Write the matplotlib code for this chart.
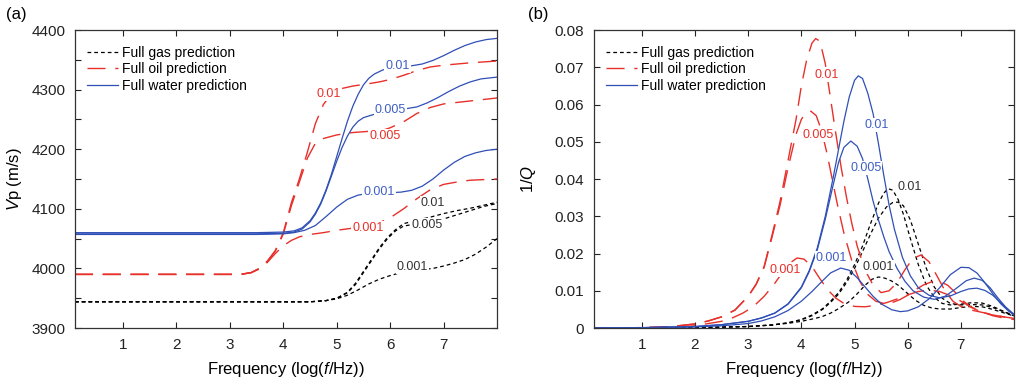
import matplotlib
matplotlib.use("Agg")
import matplotlib.pyplot as plt
from matplotlib.ticker import MultipleLocator, FuncFormatter

plt.rcParams["font.family"] = ["Liberation Sans", "DejaVu Sans"]
plt.rcParams["mathtext.fontset"] = "custom"
plt.rcParams["mathtext.rm"] = "Liberation Sans"
plt.rcParams["mathtext.it"] = "Liberation Sans:italic"

BLUE = "#2f4fb6"
RED = "#e8302a"
BLUE_TXT = "#3f5fc4"
BLACK_TXT = "#333333"

# ---------------- panel (a): Vp (m/s) vs log frequency ----------------
a_w01_x = [0.1, 3.5, 4.0, 4.2, 4.35, 4.5, 4.6, 4.7, 4.8, 4.9, 5.0, 5.1, 5.2, 5.3, 5.4, 5.5, 5.6, 5.7, 5.86,
           6.0, 6.2, 6.4, 6.6, 6.8, 7.0, 7.2, 7.4, 7.6, 7.8, 8.0]
a_w01_y = [4060, 4060, 4061, 4063, 4068, 4080, 4093, 4110, 4132, 4158, 4188, 4218, 4247, 4272, 4292, 4308, 4319, 4326, 4333,
           4336, 4338, 4340, 4343, 4349, 4357, 4366, 4374, 4380, 4384, 4386]
a_w005_x = [0.1, 3.5, 4.0, 4.2, 4.35, 4.5, 4.6, 4.7, 4.8, 4.9, 5.0, 5.1, 5.2, 5.3, 5.4, 5.5, 5.68, 6.0, 6.3, 6.5,
            6.7, 6.9, 7.1, 7.3, 7.5, 7.7, 8.0]
a_w005_y = [4058, 4058, 4059, 4061, 4066, 4078, 4091, 4108, 4130, 4155, 4180, 4203, 4222, 4237, 4247, 4253, 4258, 4264, 4268, 4271,
            4278, 4287, 4297, 4306, 4313, 4318, 4321]
a_w001_x = [0.1, 3.5, 4.0, 4.2, 4.4, 4.6, 4.8, 5.0, 5.2, 5.4, 5.6, 5.8, 6.0, 6.2, 6.4, 6.6, 6.8, 7.0, 7.2, 7.4, 7.6, 7.8, 8.0]
a_w001_y = [4057, 4057, 4058, 4060, 4064, 4072, 4087, 4103, 4116, 4123, 4126, 4127, 4127, 4128, 4131, 4138, 4150, 4165, 4178,
            4188, 4194, 4198, 4200]

a_o01_x = [0.1, 3.2, 3.4, 3.55, 3.7, 3.85, 4.0, 4.15, 4.3, 4.45, 4.6, 4.75, 4.9, 5.1, 5.3, 5.6, 5.8, 6.0, 6.25, 6.5,
           6.75, 7.0, 7.5, 8.0]
a_o01_y = [3990, 3990, 3993, 4000, 4012, 4030, 4060, 4110, 4150, 4195, 4243, 4275, 4293, 4302, 4306, 4310, 4313, 4317, 4324, 4332,
           4338, 4341, 4345, 4348]
a_o005_x = [0.1, 3.2, 3.4, 3.55, 3.7, 3.85, 4.0, 4.15, 4.3, 4.45, 4.6, 4.75, 5.0, 5.3, 5.6, 5.9, 6.0, 6.25, 6.5, 6.75,
            7.0, 7.5, 8.0]
a_o005_y = [3990, 3990, 3993, 4000, 4012, 4029, 4058, 4105, 4145, 4185, 4210, 4218, 4224, 4228, 4230, 4233, 4236, 4246, 4260, 4270,
            4276, 4281, 4286]
a_o001_x = [0.1, 3.2, 3.4, 3.55, 3.7, 3.85, 4.0, 4.15, 4.3, 4.5, 4.75, 5.0, 5.25, 5.5, 5.75, 6.0, 6.25, 6.5, 6.75, 7.0,
            7.25, 7.5, 8.0]
a_o001_y = [3990, 3990, 3993, 3999, 4010, 4025, 4038, 4047, 4053, 4057, 4060, 4064, 4067, 4070, 4075, 4085, 4100, 4117, 4132, 4141,
            4145, 4148, 4150]

a_g01_x = [0.1, 4.5, 4.8, 5.0, 5.2, 5.35, 5.5, 5.65, 5.8, 5.95, 6.1, 6.25, 6.5, 6.75, 7.0, 7.25, 7.5, 7.75, 8.0]
a_g01_y = [3944, 3944, 3946, 3950, 3960, 3975, 3995, 4015, 4035, 4052, 4065, 4075, 4081, 4086, 4092, 4097, 4101, 4106, 4111]
a_g005_x = [0.1, 4.5, 4.8, 5.0, 5.2, 5.35, 5.5, 5.65, 5.8, 5.95, 6.1, 6.25, 6.5, 6.75, 7.0, 7.25, 7.5, 7.75, 8.0]
a_g005_y = [3944, 3944, 3946, 3950, 3959, 3973, 3993, 4013, 4033, 4050, 4063, 4071, 4075, 4079, 4083, 4090, 4097, 4104, 4109]
a_g001_x = [0.1, 4.5, 4.8, 5.0, 5.2, 5.4, 5.6, 5.8, 6.0, 6.2, 6.4, 6.6, 6.8, 7.0, 7.2, 7.4, 7.6, 7.8, 8.0]
a_g001_y = [3944, 3944, 3946, 3949, 3955, 3964, 3974, 3982, 3988, 3993, 3996, 3998, 4000, 4004, 4009, 4015, 4024, 4036, 4050]

# ---------------- panel (b): 1/Q vs log frequency ----------------
b_w01_x = [0.1, 1.0, 2.0, 2.5, 3.0, 3.25, 3.5, 3.75, 4.0, 4.15, 4.3, 4.45, 4.6, 4.7, 4.8, 4.9, 5.0, 5.07, 5.15, 5.25,
           5.35, 5.45, 5.55, 5.65, 5.75, 5.9, 6.05, 6.2, 6.4, 6.6, 6.8, 7.0, 7.15, 7.3, 7.45, 7.6, 7.75, 7.9, 8.0]
b_w01_y = [0, 0.0001, 0.0004, 0.0009, 0.0018, 0.0027, 0.004, 0.0065, 0.011, 0.0155, 0.0215, 0.030, 0.0405, 0.048, 0.0555,
           0.062, 0.0665, 0.0677, 0.0670, 0.0630, 0.0575, 0.0495, 0.0410, 0.0330, 0.0265, 0.019, 0.014, 0.0108, 0.0088,
           0.0081, 0.0086, 0.0098, 0.0105, 0.0107, 0.0101, 0.0088, 0.0068, 0.0048, 0.0035]
b_w005_x = [0.1, 1.0, 2.0, 2.5, 3.0, 3.25, 3.5, 3.75, 4.0, 4.15, 4.3, 4.45, 4.6, 4.7, 4.8, 4.93, 5.05, 5.15, 5.25, 5.35,
            5.45, 5.55, 5.65, 5.8, 5.95, 6.1, 6.3, 6.5, 6.7, 6.9, 7.1, 7.25, 7.4, 7.55, 7.7, 7.85, 8.0]
b_w005_y = [0, 0.0001, 0.0004, 0.0009, 0.0018, 0.0027, 0.004, 0.0064, 0.0108, 0.0152, 0.021, 0.0292, 0.0385, 0.0445, 0.0485,
            0.0502, 0.0488, 0.0455, 0.0400, 0.0340, 0.0290, 0.0245, 0.0205, 0.0160, 0.0125, 0.0100, 0.0083, 0.0077,
            0.0085, 0.0105, 0.0127, 0.0134, 0.0128, 0.0108, 0.0080, 0.0055, 0.0037]
b_w001_x = [0.1, 1.0, 2.0, 2.5, 3.0, 3.25, 3.5, 3.75, 4.0, 4.2, 4.4, 4.55, 4.74, 4.9, 5.05, 5.2, 5.35, 5.5, 5.7, 5.86,
            6.0, 6.2, 6.4, 6.6, 6.8, 7.0, 7.15, 7.3, 7.45, 7.6, 7.75, 7.9, 8.0]
b_w001_y = [0, 0.0001, 0.0003, 0.0006, 0.0012, 0.0019, 0.003, 0.0047, 0.0072, 0.0098, 0.0127, 0.0148, 0.0161, 0.0155, 0.0135,
            0.0110, 0.0085, 0.0065, 0.0049, 0.0044, 0.0046, 0.0057, 0.0078, 0.0108, 0.0143, 0.0163, 0.0162, 0.0148,
            0.0122, 0.0092, 0.0065, 0.0045, 0.0035]

b_o01_x = [0.1, 1.0, 1.5, 2.0, 2.25, 2.5, 2.75, 3.0, 3.15, 3.3, 3.45, 3.6, 3.75, 3.9, 4.0, 4.1, 4.2, 4.27, 4.35, 4.45,
           4.55, 4.65, 4.75, 4.85, 4.95, 5.05, 5.2, 5.35, 5.5, 5.65, 5.8, 5.95, 6.1, 6.25, 6.4, 6.55, 6.7, 6.85, 7.0,
           7.2, 7.4, 7.6, 7.8, 8.0]
b_o01_y = [0, 0.0001, 0.0003, 0.0011, 0.0019, 0.003, 0.0048, 0.0085, 0.0118, 0.0165, 0.025, 0.034, 0.045, 0.056, 0.065,
           0.072, 0.0765, 0.0777, 0.0770, 0.0710, 0.0615, 0.0520, 0.0430, 0.0350, 0.0280, 0.0220, 0.0155, 0.0115,
           0.0095, 0.0100, 0.0122, 0.0157, 0.0187, 0.0196, 0.0178, 0.0140, 0.0100, 0.0072, 0.0058, 0.0048, 0.0042,
           0.0036, 0.0030, 0.0026]
b_o005_x = [0.1, 1.0, 1.5, 2.0, 2.25, 2.5, 2.75, 3.0, 3.15, 3.3, 3.45, 3.6, 3.75, 3.9, 4.0, 4.08, 4.18, 4.28, 4.38, 4.48,
            4.58, 4.68, 4.8, 4.95, 5.1, 5.25, 5.4, 5.55, 5.7, 5.85, 6.0, 6.15, 6.3, 6.45, 6.6, 6.75, 6.9, 7.05, 7.2,
            7.4, 7.6, 7.8, 8.0]
b_o005_y = [0, 0.0001, 0.0003, 0.0011, 0.0019, 0.003, 0.0048, 0.0085, 0.0117, 0.0163, 0.0245, 0.0330, 0.0430, 0.0520,
            0.0560, 0.0577, 0.0582, 0.0570, 0.0530, 0.0470, 0.0400, 0.0330, 0.0255, 0.0180, 0.0125, 0.0090, 0.0072,
            0.0066, 0.0068, 0.0076, 0.0088, 0.0103, 0.0116, 0.0124, 0.0125, 0.0115, 0.0095, 0.0072, 0.0055, 0.0042,
            0.0035, 0.0030, 0.0026]
b_o001_x = [0.1, 1.0, 1.5, 2.0, 2.5, 2.7, 2.9, 3.1, 3.3, 3.5, 3.65, 3.8, 3.92, 4.05, 4.2, 4.35, 4.5, 4.65, 4.8, 5.0,
            5.2, 5.4, 5.6, 5.8, 6.0, 6.2, 6.4, 6.6, 6.8, 7.0, 7.2, 7.4, 7.6, 7.8, 8.0]
b_o001_y = [0, 0.0001, 0.0002, 0.0006, 0.0018, 0.0027, 0.0040, 0.0058, 0.0085, 0.0120, 0.0150, 0.0176, 0.0188, 0.0185,
            0.0165, 0.0132, 0.0102, 0.0080, 0.0066, 0.0058, 0.0057, 0.0061, 0.0068, 0.0078, 0.0089, 0.0098, 0.0102,
            0.0098, 0.0087, 0.0072, 0.0056, 0.0043, 0.0033, 0.0027, 0.0023]

b_g01_x = [0.1, 2.0, 3.0, 3.45, 3.75, 4.0, 4.2, 4.4, 4.55, 4.7, 4.85, 5.0, 5.15, 5.3, 5.45, 5.55, 5.63, 5.72, 5.82, 5.92,
           6.05, 6.2, 6.35, 6.5, 6.65, 6.8, 7.0, 7.2, 7.4, 7.6, 7.8, 8.0]
b_g01_y = [0, 0.0001, 0.0004, 0.0008, 0.0014, 0.0023, 0.0035, 0.0052, 0.0072, 0.0095, 0.0128, 0.0170, 0.0220, 0.0280,
           0.0335, 0.0362, 0.0374, 0.0370, 0.0345, 0.0305, 0.0240, 0.0170, 0.0115, 0.0082, 0.0066, 0.0062, 0.0064,
           0.0068, 0.0067, 0.0058, 0.0045, 0.0033]
b_g005_x = [0.1, 2.0, 3.0, 3.45, 3.75, 4.0, 4.2, 4.4, 4.55, 4.7, 4.85, 5.0, 5.15, 5.3, 5.45, 5.6, 5.72, 5.82, 5.92, 6.05,
            6.2, 6.35, 6.5, 6.65, 6.8, 7.0, 7.2, 7.4, 7.6, 7.8, 8.0]
b_g005_y = [0, 0.0001, 0.0004, 0.0008, 0.0014, 0.0022, 0.0033, 0.0050, 0.0069, 0.0091, 0.0122, 0.0160, 0.0205, 0.0252,
            0.0295, 0.0325, 0.0337, 0.0338, 0.0328, 0.0290, 0.0225, 0.0160, 0.0110, 0.0080, 0.0066, 0.0062, 0.0063,
            0.0062, 0.0055, 0.0044, 0.0033]
b_g001_x = [0.1, 2.0, 3.0, 3.5, 3.77, 4.0, 4.2, 4.38, 4.55, 4.7, 4.89, 5.05, 5.2, 5.33, 5.45, 5.57, 5.7, 5.82, 5.98, 6.14,
            6.3, 6.45, 6.6, 6.8, 7.0, 7.2, 7.4, 7.6, 7.8, 8.0]
b_g001_y = [0, 0.0001, 0.0004, 0.0009, 0.0013, 0.0018, 0.0024, 0.0030, 0.0040, 0.0052, 0.0070, 0.0092, 0.0115, 0.0131,
            0.0137, 0.0134, 0.0126, 0.0115, 0.0095, 0.0075, 0.0061, 0.0054, 0.0051, 0.0051, 0.0055, 0.0058, 0.0057,
            0.0050, 0.0041, 0.0032]

legend_labels = ["Full gas prediction", "Full oil prediction", "Full water prediction"]
xticks = [1, 2, 3, 4, 5, 6, 7]

GAS = dict(color="black", linewidth=0.9, dashes=(3.0, 2.4))
OIL = dict(color=RED, linewidth=1.0, dashes=(13, 7))
WATER = dict(color=BLUE, linewidth=0.9, linestyle="-")


def style_axes(ax):
    ax.tick_params(which="both", direction="in", top=True, right=True, length=4,
                   width=0.8, labelsize=11, pad=7, colors="#222222")
    for s in ax.spines.values():
        s.set_linewidth(0.9)
        s.set_color("#333333")
    ax.set_xticks(xticks)
    ax.set_xlim(0.1, 8.0)
    ax.set_xlabel("Frequency (log($\\mathit{f}$/Hz))", fontsize=12, labelpad=6)


def curve_label(ax, x, y, s, color):
    ax.text(x, y, s, color=color, fontsize=9, ha="center", va="center", zorder=5,
            bbox=dict(boxstyle="square,pad=0.08", fc="white", ec="none"))


fig = plt.figure(figsize=(10.16, 3.85), dpi=100)
ax1 = fig.add_axes([0.0738, 0.148, 0.4154, 0.774])
ax2 = fig.add_axes([0.5846, 0.148, 0.4135, 0.774])

# ---- (a) ----
ax1.plot(a_g01_x, a_g01_y, label=legend_labels[0], **GAS)
ax1.plot(a_g005_x, a_g005_y, **GAS)
ax1.plot(a_g001_x, a_g001_y, **GAS)
ax1.plot(a_o01_x, a_o01_y, label=legend_labels[1], **OIL)
ax1.plot(a_o005_x, a_o005_y, **OIL)
ax1.plot(a_o001_x, a_o001_y, **OIL)
ax1.plot(a_w01_x, a_w01_y, label=legend_labels[2], **WATER)
ax1.plot(a_w005_x, a_w005_y, **WATER)
ax1.plot(a_w001_x, a_w001_y, **WATER)
style_axes(ax1)
ax1.set_ylim(3900, 4400)
ax1.yaxis.set_major_locator(MultipleLocator(100))
ax1.yaxis.set_minor_locator(MultipleLocator(50))
ax1.set_ylabel("$\\mathit{V}$p (m/s)", fontsize=12)
ax1.yaxis.set_label_coords(-0.121, 0.5)

for x, y, s, c in [(6.14, 4340, "0.01", BLUE_TXT), (6.0, 4266, "0.005", BLUE_TXT),
                   (5.79, 4128, "0.001", BLUE_TXT), (4.85, 4293, "0.01", RED),
                   (5.9, 4222, "0.005", RED), (5.58, 4068, "0.001", RED),
                   (6.8, 4110, "0.01", BLACK_TXT), (6.69, 4073, "0.005", BLACK_TXT),
                   (6.42, 4002, "0.001", BLACK_TXT)]:
    curve_label(ax1, x, y, s, c)

# ---- (b) ----
ax2.plot(b_g01_x, b_g01_y, label=legend_labels[0], **GAS)
ax2.plot(b_g005_x, b_g005_y, **GAS)
ax2.plot(b_g001_x, b_g001_y, **GAS)
ax2.plot(b_o01_x, b_o01_y, label=legend_labels[1], **OIL)
ax2.plot(b_o005_x, b_o005_y, **OIL)
ax2.plot(b_o001_x, b_o001_y, **OIL)
ax2.plot(b_w01_x, b_w01_y, label=legend_labels[2], **WATER)
ax2.plot(b_w005_x, b_w005_y, **WATER)
ax2.plot(b_w001_x, b_w001_y, **WATER)
style_axes(ax2)
ax2.set_ylim(0, 0.08)
ax2.yaxis.set_major_locator(MultipleLocator(0.01))
ax2.yaxis.set_major_formatter(FuncFormatter(lambda v, p: "0" if abs(v) < 1e-9 else f"{v:.2f}"))
ax2.set_ylabel("1/$\\mathit{Q}$", fontsize=12)
ax2.yaxis.set_label_coords(-0.133, 0.5)

for x, y, s, c in [(4.48, 0.0679, "0.01", RED), (4.31, 0.0518, "0.005", RED),
                   (3.69, 0.0156, "0.001", RED), (5.41, 0.0545, "0.01", BLUE_TXT),
                   (5.21, 0.0430, "0.005", BLUE_TXT), (4.57, 0.0188, "0.001", BLUE_TXT),
                   (6.03, 0.0379, "0.01", BLACK_TXT), (5.45, 0.0164, "0.001", BLACK_TXT)]:
    curve_label(ax2, x, y, s, c)

for ax in (ax1, ax2):
    ax.legend(loc="upper left", frameon=False, fontsize=10, handlelength=2.2,
              handletextpad=0.3, labelspacing=0.2, borderaxespad=0.5,
              bbox_to_anchor=(0.0, 0.99))

fig.text(6 / 1016, 1 - 7 / 385, "(a)", fontsize=12, va="top", ha="left")
fig.text(528 / 1016, 1 - 7 / 385, "(b)", fontsize=12, va="top", ha="left")

fig.savefig("out.png", dpi=100)
